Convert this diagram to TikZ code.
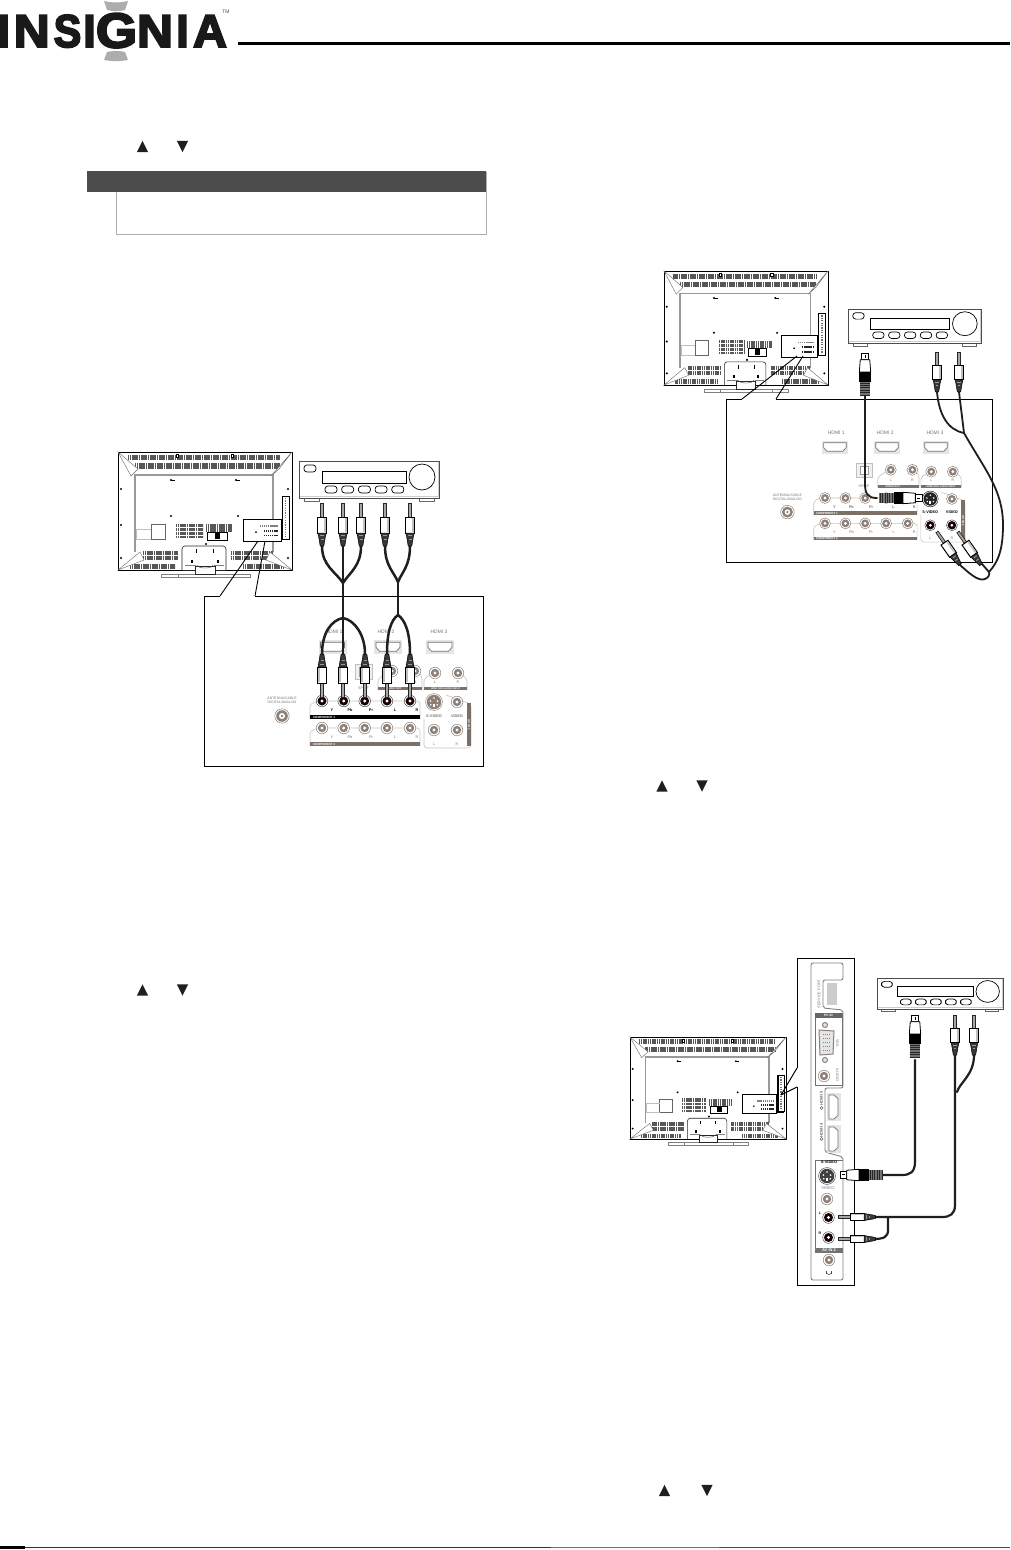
\documentclass[tikz,border=0pt]{standalone}
\usepackage{fontspec}
\setmainfont{Liberation Sans}
\newfontfamily\logofont[UprightFont={* Bold},FakeBold=4]{Liberation Sans}
\definecolor{jackc}{HTML}{8C8078}
\definecolor{bandc}{HTML}{7A7068}
\definecolor{labc}{HTML}{777777}
\definecolor{framec}{HTML}{C8C4C0}
\newcommand\fs[1]{\fontsize{#1}{#1}\selectfont}
\tikzset{
  vent/.style={line width=#1, dash pattern=on 1.3pt off 0.5pt, draw=black!66},
  cable/.style={draw=black!88, line width=2.5pt, line cap=round},
  zoomline/.style={draw=black, line width=0.9pt},
  plab/.style={inner sep=0pt, text=labc, font=\fs{3.6}},
  blab/.style={inner sep=0pt, text=white, font=\fs{3}\bfseries},
  logo/.style={inner sep=0pt, text=black!90, font=\fs{46}\logofont, anchor=base},
  rca/.pic={
    \filldraw[draw=black!85, fill=black!35, line width=0.7pt] (-1.5,0) -- (1.5,0) -- (1.5,14) -- (-1.5,14) -- cycle;
    \filldraw[draw=black, fill=white, line width=1pt] (-4.5,14) -- (4.5,14) -- (4.5,30) -- (-4.5,30) -- cycle;
    \fill[black!25] (2,15) rectangle (3.8,29);
    \filldraw[draw=black, fill=black!78, line width=0.5pt] (-4,30) -- (4,30) -- (1.8,43) -- (-1.8,43) -- cycle;
    \fill[black!40] (-1.8,32) rectangle (1.8,33);
    \fill[black!40] (-1.5,36) rectangle (1.5,37);
  },
  svplug/.pic={
    \filldraw[draw=black, fill=white, line width=0.7pt] (-4,0) -- (4,0) -- (4,7) -- (-4,7) -- cycle;
    \draw[line width=0.6pt] (0.6,2) -- (0.6,5);
    \filldraw[draw=black, fill=white, line width=0.8pt] (-5,7) -- (5,7) -- (6,20) -- (-6,20) -- cycle;
    \fill[black] (-6.3,20) rectangle (6.3,30);
    \fill[black!55] (-5,30) rectangle (5,45);
    \foreach \k in {31.5,34,36.5,39,41.5,44} {\draw[black!85, line width=0.5pt] (-5,\k) -- (5,\k);}
  },
}
% --- jacks
\newcommand\JG[2]{\filldraw[draw=jackc, fill=white, line width=0.5pt] (#1,#2) circle[radius=5.8];
  \fill[jackc] (#1,#2) circle[radius=4.2]; \fill[white] (#1,#2) circle[radius=1.7];}
\newcommand\JD[2]{\filldraw[draw=black!70, fill=white, line width=0.5pt] (#1,#2) circle[radius=5.8];
  \fill[black!90!red] (#1,#2) circle[radius=4.5]; \fill[white] (#1,#2) circle[radius=1.6];}
\newcommand\SV[3]{\filldraw[draw=#3, fill=white, line width=0.5pt] (#1,#2) circle[radius=8.4];
  \fill[#3] (#1,#2) circle[radius=7.2];
  \fill[white] (#1,#2) ++(-1.2,2.2) rectangle ++(2.4,3.2);
  \foreach \dx/\dy in {-3.6/-1,3.6/-1,-3.2/2.8,3.2/2.8,0/-4}{\fill[white] (#1,#2) ++(\dx,\dy) circle[radius=0.9];}}
\newcommand\HD[3]{\begin{scope}[shift={(#1,#2)},rotate=#3]
  \fill[black!10] (-14,-7) rectangle (14,7);
  \filldraw[draw=black!55, fill=white, line width=0.7pt] (-12,-5) -- (12,-5) -- (12,0) -- (8.5,4) -- (-8.5,4) -- (-12,0) -- cycle;
  \end{scope}}
% --- back panel; origin is the Y jack of COMPONENT 1
\let\CJ\JG \let\AJ\JG \def\svc{jackc} \def\compband{bandc} \def\cl{labc} \def\sl{labc}
\newcommand\backpanel{
  \node (h1) [plab, font=\fs{5}] at (12,-69) {HDMI 1};
  \node (h2) [plab, font=\fs{5}] at (64,-69) {HDMI 2};
  \node (h3) [plab, font=\fs{5}] at (117,-69) {HDMI 3};
  \HD{10.5}{-53.7}{0} \HD{66}{-53.7}{0} \HD{118}{-53.7}{0}
  \filldraw[draw=black!25, fill=black!6, line width=0.4pt] (33,-37) rectangle (50,-22);
  \filldraw[draw=black!40, fill=white, line width=0.4pt] (37,-34) rectangle (46,-25);
  \node (sp) [plab] at (41.5,-13) {SPDIF};
  \draw[framec, line width=0.6pt, rounded corners=2pt] (56,-11) -- (56,-22) -- (68,-30) (96,-30) -- (100,-24) -- (100,-11);
  \draw[framec, line width=0.6pt, rounded corners=2pt] (102,-11) -- (102,-22) -- (111,-28) (138,-28) -- (145,-22) -- (145,-11);
  \fill[bandc] (56,-14) rectangle (100,-11);
  \fill[bandc] (102,-14) rectangle (145,-11);
  \node (ao) [blab, font=\fs{2.6}\bfseries] at (72,-12.5) {AUDIO OUT};
  \node (hi) [blab, font=\fs{2.4}\bfseries] at (123.5,-12.5) {HDMI 3/DVI AUDIO INPUT};
  \JG{70}{-30} \JG{93}{-30} \JG{113}{-28} \JG{136}{-28}
  \node (l1) [plab] at (70,-19) {L}; \node (r1) [plab] at (93,-19) {R};
  \node (l2) [plab] at (113,-19) {L}; \node (r2) [plab] at (136,-19) {R};
  % antenna
  \node (an) [plab, align=center, font=\fs{3.5}] at (-40,-1) {ANTENNA/CABLE\\[0.3pt]DIGITAL/ANALOG};
  \filldraw[draw=jackc, fill=white, line width=0.5pt] (-40,15) circle[radius=7.2];
  \fill[jackc] (-40,15) circle[radius=5.8]; \fill[white] (-40,15) circle[radius=3]; \fill[jackc] (-40,15) circle[radius=1.3];
  % frames
  \draw[framec, line width=0.6pt, rounded corners=3pt] (-12,18) -- (-12,3) -- (-4,0) -- (98,0) -- (98,18);
  \draw[framec, line width=0.6pt, rounded corners=3pt] (-12,45) -- (-12,30) -- (-4,27) -- (98,27) -- (98,45);
  \fill[\compband] (-12,14) rectangle (98,18);
  \fill[bandc] (-12,41) rectangle (98,45);
  \node (c1) [blab] at (2,16) {COMPONENT 1};
  \node (c2) [blab] at (2,43) {COMPONENT 2};
  \foreach \lx/\lt in {10/Y,28/Pb,49/Pr,73/L,95/R}{
    \node [plab, text=\cl, font=\fs{3.8}\bfseries] at (\lx,9.5) {\lt};
    \node [plab, font=\fs{3.8}] at (\lx,36.5) {\lt};}
  \foreach \jx in {0,21.7,42.7,65,88}{\CJ{\jx}{0} \JG{\jx}{27}}
  % AV IN 1
  \draw[framec, line width=0.6pt, rounded corners=3pt] (124,-6) -- (149,3) -- (149,47) -- (102,47) -- (102,18);
  \fill[bandc] (145,2) rectangle (149,45);
  \node (av) [blab, rotate=-90] at (147,24) {AV IN 1};
  \SV{112}{1}{\svc}
  \JG{135}{1}
  \AJ{112}{29} \AJ{135}{29}
  \node (sl) [plab, text=\sl, font=\fs{3.8}\bfseries] at (112,15) {S-VIDEO};
  \node (vl) [plab, text=\sl, font=\fs{3.8}\bfseries] at (135,15) {VIDEO};
  \node (ll) [plab] at (112,43) {L}; \node (rl) [plab] at (135,43) {R};
}
% --- TV rear view
\newcommand\tvback[4]{\begin{scope}[shift={(#1,#2)},xscale=#3,yscale=#4]
  \filldraw[draw=black!50, fill=white, line width=0.4pt] (43,122) rectangle (132,125);
  \draw[black!50, line width=0.3pt] (60,122) -- (60,125) (115,122) -- (115,125);
  \filldraw[draw=black, fill=white, line width=0.9pt] (0,0) rectangle (174,118);
  \draw[black!40, line width=1.3pt] (17,100) -- (17,23) -- (155,23) -- (155,100);
  % vents
  \draw[vent=4.6pt] (10,5.5) -- (162,5.5);
  \draw[vent=5.2pt] (17,14) -- (162,14);
  \draw[vent=14pt] (58,79) -- (85,79);
  \draw[vent=7.5pt] (88,76) -- (114,76);
  \draw[vent=9pt] (25,103) -- (60,103);
  \draw[vent=9pt] (113,103) -- (155,103);
  \draw[vent=4.5pt] (12,114.5) -- (57,114.5);
  \draw[vent=4.5pt] (125,114.5) -- (165,114.5);
  \draw[white, line width=0.4pt] (58,75) -- (85,75) (58,79) -- (85,79) (58,83) -- (85,83) (25,103) -- (60,103) (113,103) -- (155,103);
  % corners
  \filldraw[draw=black!60, fill=white, line width=0.4pt] (0,0) -- (13,24) -- (20,17) -- cycle;
  \filldraw[draw=black!60, fill=white, line width=0.4pt] (174,0) -- (161,17) -- (153,24) -- cycle;
  \filldraw[draw=black!60, fill=white, line width=0.4pt] (0,118) -- (22,100) -- (26,108) -- cycle;
  \filldraw[draw=black!60, fill=white, line width=0.4pt] (174,118) -- (152,100) -- (148,108) -- cycle;
  % holes and tabs
  \foreach \u/\v in {53/28,118/28,53/64,120/64,3/37,3/73,3/106,170/37,170/73,170/106,88/92}{
    \fill[black] (\u,\v) circle[radius=1.2];}
  \foreach \u in {53,118}{\draw[black, line width=0.7pt] (\u,28) -- (\u+4,28);}
  \filldraw[draw=black, fill=white, line width=0.4pt] (58,2.5) rectangle (60.5,5.5);
  \filldraw[draw=black, fill=white, line width=0.4pt] (113,2.5) rectangle (115.5,5.5);
  % left boxes
  \filldraw[draw=black!60, fill=white, line width=0.4pt] (33,72) rectangle (47,87);
  \draw[black!25, line width=0.6pt] (33,77) -- (18,77) -- (18,87) -- (33,87);
  % bracket
  \filldraw[draw=black, fill=white, line width=0.6pt] (89,80) rectangle (109,88);
  \fill[black] (97,81) rectangle (102,87);
  % side slot
  \filldraw[draw=black, fill=white, line width=0.5pt] (164,44) rectangle (171,87);
  \draw[black!55, line width=1.6pt, dash pattern=on 1.2pt off 1.2pt] (167.5,46) -- (167.5,85);
  % stand
  \filldraw[draw=black!85, fill=white, line width=0.6pt, rounded corners=3pt] (64,118) -- (64,94) -- (108,94) -- (108,118);
  \fill[black] (73,108) rectangle (75,111); \fill[black] (99,108) rectangle (101,111);
  \fill[black] (78,97) rectangle (79,101); \fill[black] (95,97) rectangle (96,101);
  \draw[black!50, line width=0.9pt] (67,113) -- (78,113) (96,113) -- (106,113);
  \filldraw[draw=black!85, fill=white, line width=0.5pt] (77,114) rectangle (97,122);
  \draw[black!70, line width=0.4pt] (79,113) arc[start angle=180, end angle=0, x radius=8, y radius=3];
  % inset
  \filldraw[draw=black, fill=white, line width=0.9pt] (125,67) rectangle (163,89);
  \draw[black!85, line width=1.8pt, dash pattern=on 1.3pt off 0.6pt] (146,79) -- (160,79) (146,83.5) -- (160,83.5);
  \draw[black!50, line width=1.8pt, dash pattern=on 1.3pt off 0.6pt] (142,74) -- (160,74);
  \fill[black] (138,80) circle[radius=1];
  \end{scope}}
% --- receiver
\newcommand\receiver[4]{\begin{scope}[shift={(#1,#2)},xscale=#3,yscale=#4]
  \filldraw[draw=black!60, fill=white, line width=0.5pt] (5,37) rectangle (20,40);
  \filldraw[draw=black!60, fill=white, line width=0.5pt] (120,37) rectangle (135,40);
  \filldraw[draw=black!70, fill=white, line width=0.8pt] (0,0) rectangle (140,37);
  \draw[black!20, line width=1pt] (1,35.6) -- (139,35.6) -- (139,1);
  \draw[black, line width=0.7pt, rounded corners=3pt] (5,4) rectangle (17,11);
  \draw[black, line width=0.6pt] (23,10) rectangle (107,22);
  \foreach \k in {0,1,2,3,4}{\draw[black, line width=0.7pt, rounded corners=3pt] (26+16.7*\k,25) rectangle ++(12,7);}
  \draw[black, line width=0.7pt] (123,16) circle[radius=13];
  \end{scope}}
\newcommand\triup[2]{\fill[black!88] (#1-5.6,#2+5.6) -- (#1+5.6,#2+5.6) -- (#1,#2-5.6) -- cycle;}
\newcommand\tridn[2]{\fill[black!88] (#1-5.6,#2-5.6) -- (#1+5.6,#2-5.6) -- (#1,#2+5.6) -- cycle;}
\begin{document}
\begin{tikzpicture}[x=1pt,y=-1pt]
\useasboundingbox (0,0) rectangle (1010,1550);
\fill[white] (0,0) rectangle (1010,1550);
% ===== header
\node (L1) [logo] at (3.7,47) {I};
\node (L2) [logo, xscale=1.08] at (31.7,47) {N};
\node (L3) [logo, xscale=.9] at (67.5,47) {S};
\node (L4) [logo] at (89.5,47) {I};
\node (L5) [logo, font=\fs{49}\logofont, xscale=1.08] at (116.5,47.5) {G};
\node (L6) [logo, xscale=1.08] at (155,47) {N};
\node (L7) [logo] at (182.5,47) {I};
\node (L8) [logo, xscale=1.02] at (210,47) {A};
\node (TM) [inner sep=0pt, font=\fs{5}, text=black!70] at (226,12) {TM};
\fill[black!32] (104,1) .. controls (112,3) and (120,3) .. (128,1) -- (125,10) .. controls (118,11.5) and (114,11.5) .. (107,10) -- cycle;
\fill[black!32] (107,52) .. controls (114,50.5) and (118,50.5) .. (125,52) -- (128,60) .. controls (120,61.5) and (112,61.5) .. (104,60) -- cycle;
\draw[black, line width=2.4pt] (238,43.5) -- (1010,43.5);
% ===== note box
\draw[black!32, line width=0.9pt] (116.5,190) -- (116.5,234.5) -- (486.5,234.5) -- (486.5,172);
\fill[black!70] (87,171) rectangle (486,192);
% ===== triangles
\triup{142.5}{146.5} \tridn{182.5}{146.5}
\triup{142.5}{990} \tridn{182.5}{990}
\triup{662}{786} \tridn{702}{786}
\triup{664.5}{1490.5} \tridn{707}{1490.5}
% ===== bottom rule
\draw[black!80, line width=1.6pt] (25,1547.5) -- (551,1547.5);
\draw[black!55, line width=1.6pt] (551,1547.5) -- (719,1547.5);
\draw[black!70, line width=1.6pt] (719,1547.5) -- (1010,1547.5);
\draw[black, line width=2.4pt] (0,1547.5) -- (25,1547.5);

% ===== FIGURE 1
\tvback{118}{452}{1}{1}
\receiver{299}{461}{1}{1}
\coordinate (f1a) at (204,596); \coordinate (f1b) at (483,596);
\coordinate (f1c) at (483,766); \coordinate (f1d) at (204,766);
\coordinate (g1a) at (220,596); \coordinate (g1b) at (255,596);
\coordinate (i1a) at (258,541); \coordinate (i1b) at (265,541);
\draw[zoomline] (g1a) -- (f1a) -- (f1d) -- (f1c) -- (f1b) -- (g1b);
\draw[zoomline] (i1a) -- (g1a) (i1b) -- (g1b);
\begingroup
\let\CJ\JD \def\compband{black} \def\cl{black}
\begin{scope}[shift={(322,701)}] \backpanel \end{scope}
\endgroup
\coordinate (a1) at (322,546); \coordinate (a2) at (343,546); \coordinate (a3) at (361,546);
\coordinate (a4) at (385,546); \coordinate (a5) at (410,546);
\coordinate (j1) at (343,583); \coordinate (j2) at (343,618);
\coordinate (j3) at (398,582); \coordinate (j4) at (398,615);
\coordinate (b1) at (322,654); \coordinate (b2) at (343,654); \coordinate (b3) at (365,654);
\coordinate (b4) at (387,654); \coordinate (b5) at (410,654);
\draw[cable] (a1) .. controls (322,566) and (336,572) .. (j1);
\draw[cable] (a3) .. controls (361,566) and (350,572) .. (j1);
\draw[cable] (a2) -- (j1) -- (j2) -- (b2);
\draw[cable] (j2) .. controls (332,620) and (322,632) .. (b1);
\draw[cable] (j2) .. controls (354,620) and (365,634) .. (b3);
\draw[cable] (a4) .. controls (385,566) and (394,572) .. (j3);
\draw[cable] (a5) .. controls (410,566) and (402,572) .. (j3);
\draw[cable] (j3) -- (j4);
\draw[cable] (j4) .. controls (391,620) and (387,632) .. (b4);
\draw[cable] (j4) .. controls (405,620) and (410,632) .. (b5);
\foreach \px in {322,343,361,385,410}{\pic at (\px,503) {rca};}
\foreach \px in {322,343,365,387,410}{\pic[rotate=180] at (\px,697) {rca};}

% ===== FIGURE 2
\tvback{664}{271}{.943}{.966}
\receiver{848}{309}{.95}{.92}
\coordinate (f2a) at (726,399); \coordinate (f2b) at (992,399);
\coordinate (f2c) at (992,562); \coordinate (f2d) at (726,562);
\coordinate (g2a) at (742,399); \coordinate (g2b) at (776,399);
\coordinate (i2a) at (797,356); \coordinate (i2b) at (803,356);
\draw[zoomline] (g2a) -- (f2a) -- (f2d) -- (f2c) -- (f2b) -- (g2b);
\draw[zoomline] (i2a) -- (g2a) (i2b) -- (g2b);
\begingroup
\let\AJ\JD \def\svc{black!85} \def\sl{black}
\begin{scope}[shift={(825,498)},scale=.94] \backpanel \end{scope}
\endgroup
\coordinate (s1) at (865,396); \coordinate (s2) at (877,498);
\coordinate (c1) at (937,392); \coordinate (c2) at (959,392);
\coordinate (k1) at (964,433); \coordinate (k2) at (989,572);
\coordinate (d1) at (960,565); \coordinate (d2) at (982,564);
\draw[cable, line width=1.8pt] (s1) -- (865,484) .. controls (865,494) and (868,498) .. (s2);
\draw[cable, line width=1.8pt] (c1) .. controls (939,415) and (948,430) .. (k1);
\draw[cable, line width=1.8pt] (c2) -- (k1);
\draw[cable, line width=1.8pt] (k1) .. controls (985,470) and (1003,490) .. (1003,525) .. controls (1003,550) and (998,562) .. (k2);
\draw[cable, line width=1.8pt] (d1) .. controls (968,572) and (978,582) .. (985,579) .. controls (988,578) and (990,575) .. (k2);
\draw[cable, line width=1.8pt] (d2) -- (k2);
\pic[scale=.95] at (865,353) {svplug};
\pic[rotate=-90,scale=.95] at (922,498) {svplug};
\pic[scale=.93] at (937,352) {rca};
\pic[scale=.93] at (959,352) {rca};
\pic[rotate=35,scale=.93] at (937,532) {rca};
\pic[rotate=35,scale=.93] at (958,532) {rca};

% ===== FIGURE 3
\tvback{630}{1037}{.897}{.864}
\receiver{877}{978}{.9}{.84}
\filldraw[draw=black, fill=white, line width=0.8pt] (778,1075) rectangle (784,1111);
\draw[black!55, line width=1.6pt, dash pattern=on 1.2pt off 1.2pt] (781,1077) -- (781,1109);
\coordinate (t3) at (781,1095);
\coordinate (f3a) at (797,958); \coordinate (f3b) at (854,958);
\coordinate (f3c) at (854,1285); \coordinate (f3d) at (797,1285);
\coordinate (g3a) at (797,1068); \coordinate (g3b) at (797,1087);
\draw[black, line width=1pt] (g3a) -- (f3a) -- (f3b) -- (f3c) -- (f3d) -- (g3b);
\draw[zoomline, line width=1pt] (t3) -- (g3a) (t3) -- (g3b);
% side panel outline
\draw[black!50, line width=0.9pt, rounded corners=2pt] (843,980) -- (843,963) -- (811,963) -- (811,1280) -- (843,1280) -- (843,1157) -- (825,1152) -- (825,1088) -- (843,1088) -- (843,1010) -- (823,1008) -- (823,980) -- cycle;
\fill[black!20] (827,983) rectangle (837,1005);
\node (sp3) [plab, rotate=90, font=\fs{3.8}] at (819,994) {SERVICE PORT};
\draw[black!55, line width=0.7pt] (815,1013) rectangle (842,1085);
\fill[black!60] (815,1013) rectangle (842,1018);
\node (pc) [blab, font=\fs{3.2}\bfseries] at (828.5,1015.5) {PC IN};
\filldraw[draw=jackc, fill=black!10, line width=1pt] (825,1025) circle[radius=2.5];
\filldraw[draw=jackc, fill=black!10, line width=1pt] (825,1060) circle[radius=2.5];
\filldraw[draw=jackc, fill=black!10, line width=1pt] (819,1030) -- (834,1031) -- (833,1054) -- (820,1055) -- cycle;
\foreach \v in {1034,1038,1042,1046,1050}{\draw[jackc, line width=0.7pt, dash pattern=on 1pt off 1pt] (823,\v) -- (831,\v);}
\node (vga) [plab, rotate=-90, font=\fs{3.8}] at (837.5,1043) {VGA};
\JG{824}{1076}
\node (aud) [plab, rotate=-90, font=\fs{3.8}] at (837.5,1075) {AUDIO};
\HD{834}{1107}{90} \HD{834}{1139}{90}
\node (h5) [plab, rotate=90, font=\fs{4.2}\bfseries] at (821.5,1098) {HDMI 5};
\node (h4) [plab, rotate=90, font=\fs{4.2}\bfseries] at (821.5,1130) {HDMI 4};
\draw[black!60, line width=0.6pt] (821.5,1108) circle[radius=1.5] (821.5,1139) circle[radius=1.5];
\draw[black!55, line width=0.7pt] (815,1250) -- (815,1160) -- (843,1160);
\node (sv3) [plab, text=black, font=\fs{4}\bfseries] at (829,1162.5) {S-VIDEO};
\SV{827}{1176}{black!75}
\node (v3) [plab, font=\fs{4.2}] at (828,1188.5) {VIDEO};
\JG{827}{1199}
\JD{828.5}{1217.5} \JD{828.5}{1237.5}
\node (ls3) [plab, text=black, font=\fs{3.5}\bfseries] at (820,1213) {L};
\node (rs3) [plab, text=black, font=\fs{3.5}\bfseries] at (820,1233) {R};
\fill[black!55] (815,1248) rectangle (843,1253);
\node (av3) [blab, font=\fs{4}\bfseries] at (829,1250.5) {AV IN 2};
\JG{829}{1260}
\draw[black!70, line width=0.6pt] (826.5,1272) arc[start angle=180, end angle=0, radius=2.5];
\fill[black!70] (825.7,1271) rectangle (827.2,1273.5); \fill[black!70] (830.8,1271) rectangle (832.3,1273.5);
% cables
\coordinate (u1) at (915,1060); \coordinate (v1) at (883,1175);
\coordinate (u2) at (955,1055); \coordinate (u3) at (974,1055);
\coordinate (w1) at (957,1092); \coordinate (w2) at (875,1217);
\coordinate (w3) at (888,1217); \coordinate (w4) at (873,1239);
\draw[cable, line width=2.2pt] (u1) -- (915,1162) .. controls (915,1172) and (910,1175) .. (902,1175) -- (v1);
\draw[cable, line width=2.2pt] (u2) -- (955,1205) .. controls (955,1214) and (950,1217) .. (942,1217) -- (w2);
\draw[cable, line width=2.2pt] (u3) .. controls (974,1075) and (960,1082) .. (w1);
\draw[cable, line width=2.2pt] (w3) -- (888,1230) .. controls (888,1237) and (884,1239) .. (w4);
\pic[scale=.95] at (915,1015) {svplug};
\pic[rotate=90,scale=.95] at (840,1175) {svplug};
\pic[scale=.93] at (955,1015) {rca};
\pic[scale=.93] at (974,1015) {rca};
\pic[rotate=90,scale=.87] at (838,1217) {rca};
\pic[rotate=90,scale=.87] at (838,1239) {rca};
\end{tikzpicture}
\end{document}
